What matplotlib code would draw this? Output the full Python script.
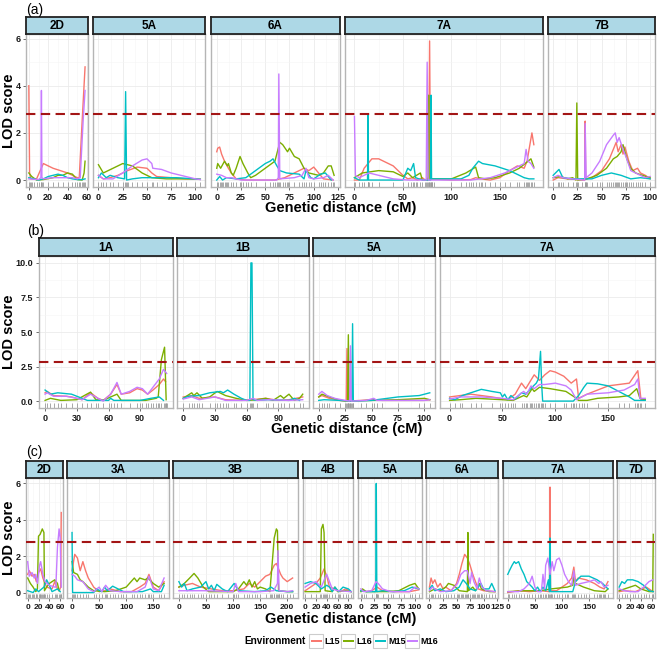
import matplotlib
matplotlib.use("Agg")
import matplotlib.pyplot as plt
from matplotlib.patches import Rectangle

plt.rcParams['font.family'] = ['Liberation Sans', 'DejaVu Sans']

# ---------------- data ----------------
ENVS = ["L15", "L16", "M15", "M16"]
COLORS = ["#F8766D", "#7CAE00", "#00BFC4", "#C77CFF"]
THRESHOLD = 2.8

# Row (a)
a_chroms = ["2D", "5A", "6A", "7A", "7B"]
a_xticks = [[0, 20, 40, 60], [0, 25, 50, 75, 100], [0, 25, 50, 75, 100, 125],
            [0, 50, 100, 150], [0, 25, 50, 75, 100]]
a_yticks = [0, 2, 4, 6]
a_ylabels = ["0", "2", "4", "6"]

a_2D = {
    "L15": ([0, 0.8, 2, 8, 15, 25, 40, 50, 52, 55, 58],
            [4.0, 0.3, 0.05, 0.05, 0.7, 0.5, 0.3, 0.1, 0.1, 2.5, 4.8]),
    "L16": ([0, 3, 8, 15, 25, 30, 35, 40, 45, 48, 50, 55, 57, 58],
            [0.3, 0.15, 0.0, 0.02, 0.1, 0.2, 0.2, 0.3, 0.25, 0.1, 0.02, 0.0, 0.3, 0.8]),
    "M15": ([0, 5, 10, 15, 20, 25, 30, 35, 40, 45, 50, 55, 58],
            [0.1, 0.05, 0.0, 0.05, 0.15, 0.2, 0.25, 0.2, 0.1, 0.05, 0.02, 0.02, 0.05]),
    "M16": ([0, 10, 12.5, 13, 13.5, 15, 25, 35, 45, 50, 53, 56, 58],
            [0.05, 0.02, 0.1, 3.8, 0.1, 0.05, 0.1, 0.1, 0.1, 0.05, 0.1, 2.5, 3.8]),
}
a_5A = {
    "L15": ([0, 5, 12, 20, 30, 40, 50, 55, 60, 75, 90, 100, 105],
            [0.2, 0.05, 0.1, 0.2, 0.4, 0.55, 0.5, 0.3, 0.15, 0.1, 0.05, 0.05, 0.03]),
    "L16": ([0, 5, 15, 25, 35, 45, 55, 70, 85, 100, 105],
            [0.65, 0.3, 0.5, 0.7, 0.6, 0.3, 0.1, 0.05, 0.05, 0.05, 0.03]),
    "M15": ([0, 3, 8, 12, 20, 27, 28, 29, 35, 45, 60, 80, 100, 105],
            [0.1, 0.3, 0.1, 0.2, 0.1, 0.05, 3.75, 0.0, 0.05, 0.1, 0.1, 0.1, 0.05, 0.03]),
    "M16": ([0, 5, 15, 25, 35, 45, 50, 55, 56, 65, 75, 90, 100, 105],
            [0.2, 0.05, 0.05, 0.3, 0.6, 0.85, 0.9, 0.7, 0.5, 0.45, 0.3, 0.15, 0.05, 0.02]),
}
a_6A = {
    "L15": ([0, 1, 3, 5, 8, 12, 15, 20, 30, 60, 70, 80, 90, 95, 100, 105, 110, 120],
            [1.2, 1.35, 1.4, 1.1, 0.8, 0.5, 0.3, 0.05, 0.0, 0.0, 0.1, 0.3, 0.5, 0.4, 0.55, 0.3, 0.05, 0.0]),
    "L16": ([0, 1, 4, 8, 11, 12, 15, 17, 20, 24, 27, 32, 35, 40, 50, 60, 65, 68, 73, 75, 80, 85, 90, 95, 105, 110, 115, 118, 121],
            [0.5, 0.7, 0.5, 0.8, 0.6, 0.7, 0.3, 0.2, 0.5, 1.0, 0.7, 0.3, 0.1, 0.2, 0.5, 0.8, 1.6, 1.5, 1.2, 1.35, 1.0, 0.9, 0.5, 0.3, 0.2, 0.3, 0.6, 0.6, 0.2]),
    "M15": ([0, 3, 6, 10, 20, 30, 40, 50, 55, 58, 62, 65, 72, 85, 90, 92, 97, 100, 107, 112, 118],
            [0.0, 0.15, 0.0, 0.1, 0.05, 0.1, 0.4, 0.7, 0.8, 0.9, 0.6, 0.4, 0.3, 0.25, 0.05, 0.4, 0.1, 0.05, 0.25, 0.3, 0.0]),
    "M16": ([0, 5, 10, 15, 25, 62, 63.5, 64, 65, 80, 88, 92, 95, 100, 110, 115, 120],
            [0.25, 0.2, 0.1, 0.1, 0.0, 0.0, 0.1, 4.5, 0.05, 0.1, 0.2, 0.5, 0.1, 0.05, 0.1, 0.2, 0.0]),
}
a_7A = {
    "L15": ([0, 5, 10, 18, 25, 40, 50, 55, 60, 65, 70, 73, 76.5, 77.5, 78.5, 80, 100, 120, 125, 130, 140, 150, 160, 168, 175, 178, 183, 185],
            [0.0, 0.0, 0.5, 0.9, 0.9, 0.6, 0.2, 0.05, 0.1, 0.0, 0.1, 0.0, 0.1, 5.9, 0.1, 0.05, 0.0, 0.02, 0.1, 0.05, 0.0, 0.1, 0.4, 0.6, 0.5, 0.8, 2.0, 1.5]),
    "L16": ([0, 8, 25, 40, 50, 55, 60, 68, 70, 76, 76.5, 77, 80, 100, 115, 125, 128, 135, 145, 160, 170, 182, 185],
            [0.1, 0.3, 0.4, 0.35, 0.15, 0.3, 0.1, 0.3, 0.0, 0.0, 3.6, 0.0, 0.05, 0.05, 0.3, 0.55, 0.1, 0.05, 0.1, 0.3, 0.5, 0.9, 0.55]),
    "M15": ([0, 5, 13.5, 14, 14.5, 50, 55, 58, 61, 63, 70, 78.5, 79, 79.5, 82, 110, 118, 122, 128, 132, 145, 160, 175, 180, 185],
            [0.1, 0.0, 0.0, 2.77, 0.0, 0.0, 0.5, 0.4, 0.7, 0.1, 0.0, 0.0, 3.6, 0.05, 0.05, 0.05, 0.2, 0.5, 0.8, 0.7, 0.6, 0.4, 0.1, 0.05, 0.05]),
    "M16": ([0, 1, 5, 15, 25, 40, 55, 74, 75, 76, 120, 140, 155, 170, 175, 177, 179, 182, 185],
            [2.7, 0.2, 0.1, 0.3, 0.2, 0.05, 0.0, 0.0, 5.0, 0.0, 0.0, 0.1, 0.3, 0.6, 0.7, 1.3, 0.8, 0.7, 0.5]),
}
a_7B = {
    "L15": ([0, 5, 15, 30, 32.5, 33, 33.5, 40, 50, 58, 62, 65, 67, 70, 72, 74, 78, 82, 87, 90, 95, 100],
            [0.0, 0.1, 0.05, 0.0, 0.0, 2.5, 0.05, 0.1, 0.4, 0.9, 1.3, 1.6, 1.2, 1.5, 1.1, 1.4, 0.8, 0.4, 0.5, 0.3, 0.2, 0.05]),
    "L16": ([0, 8, 15, 20, 23.5, 24.4, 25.3, 35, 45, 55, 62, 66, 70, 72, 76, 80, 85, 92, 100],
            [0.1, 0.15, 0.05, 0.1, 0.0, 3.27, 0.0, 0.05, 0.2, 0.5, 0.9, 1.0, 1.2, 1.5, 0.9, 0.5, 0.3, 0.2, 0.1]),
    "M15": ([0, 6, 10, 20, 40, 50, 60, 70, 80, 90, 100],
            [0.2, 0.45, 0.1, 0.05, 0.05, 0.2, 0.3, 0.2, 0.05, 0.1, 0.05]),
    "M16": ([0, 5, 10, 20, 32.5, 33, 34, 40, 48, 55, 62, 64, 66, 68, 72, 75, 80, 85, 90, 95, 100],
            [0.1, 0.2, 0.1, 0.05, 0.0, 2.4, 0.1, 0.3, 0.8, 1.5, 1.9, 2.0, 1.6, 1.8, 1.3, 1.0, 0.4, 0.3, 0.2, 0.1, 0.15]),
}
a_data = [a_2D, a_5A, a_6A, a_7A, a_7B]

# Row (b)
b_chroms = ["1A", "1B", "5A", "7A"]
b_xticks = [[0, 30, 60, 90], [0, 30, 60, 90], [0, 25, 50, 75, 100], [0, 50, 100, 150]]
b_yticks = [0, 2.5, 5, 7.5, 10]
b_ylabels = ["0.0", "2.5", "5.0", "7.5", "10.0"]

b_1A = {
    "L15": ([0, 2, 8, 20, 25, 35, 43, 50, 55, 62, 68, 72, 80, 87, 92, 97, 102, 108, 112, 114],
            [0.6, 0.7, 0.4, 0.35, 0.3, 0.1, 0.6, 0.2, 0.05, 0.5, 1.2, 0.5, 0.6, 0.9, 0.8, 0.5, 0.8, 1.2, 1.6, 1.4]),
    "L16": ([0, 5, 15, 30, 43, 48, 55, 62, 68, 72, 95, 105, 107, 110, 113, 114.5],
            [0.05, 0.2, 0.05, 0.1, 0.65, 0.1, 0.05, 0.3, 0.5, 0.05, 0.05, 0.2, 0.3, 3.0, 3.9, 0.1]),
    "M15": ([0, 5, 12, 25, 35, 40, 60, 62, 65, 90, 100, 108, 112],
            [0.8, 0.5, 0.6, 0.5, 0.2, 0.05, 0.05, 0.2, 0.05, 0.05, 0.2, 0.3, 0.05]),
    "M16": ([0, 2, 8, 20, 30, 35, 43, 50, 55, 62, 68, 72, 80, 87, 92, 97, 102, 108, 112, 115],
            [0.5, 0.6, 0.35, 0.35, 0.2, 0.1, 0.5, 0.2, 0.0, 0.5, 1.35, 0.5, 0.7, 1.0, 0.9, 0.5, 1.0, 1.6, 2.3, 2.0]),
}
b_1B = {
    "L15": ([0, 8, 15, 30, 40, 55, 65, 78, 90, 100, 113],
            [0.3, 0.4, 0.2, 0.3, 0.1, 0.05, 0.1, 0.2, 0.05, 0.1, 0.3]),
    "L16": ([0, 8, 10, 13, 18, 25, 32, 40, 50, 60, 70, 78, 85, 92, 95, 100, 105, 110, 113],
            [0.2, 0.6, 0.4, 0.6, 0.2, 0.3, 0.7, 0.4, 0.2, 0.05, 0.1, 0.2, 0.05, 0.4, 0.2, 0.5, 0.05, 0.2, 0.5]),
    "M15": ([0, 5, 15, 25, 35, 38, 42, 48, 55, 60, 63, 64, 65, 66, 70, 80, 100, 105, 110],
            [0.2, 0.35, 0.4, 0.6, 0.7, 0.6, 0.8, 0.5, 0.2, 0.05, 0.05, 10.0, 10.0, 0.1, 0.05, 0.1, 0.05, 0.2, 0.05]),
    "M16": ([0, 8, 15, 30, 40, 60, 66, 70, 80, 100, 113],
            [0.15, 0.3, 0.1, 0.3, 0.05, 0.05, 0.2, 0.05, 0.1, 0.05, 0.1]),
}
b_5A = {
    "L15": ([0, 3, 10, 20, 26, 26.7, 27.5, 40, 50, 60, 100, 105],
            [0.3, 0.4, 0.2, 0.05, 0.0, 3.8, 0.0, 0.05, 0.1, 0.05, 0.05, 0.1]),
    "L16": ([0, 3, 10, 20, 27.3, 28, 28.7, 50, 75, 100, 105],
            [0.3, 0.5, 0.3, 0.05, 0.0, 4.8, 0.0, 0.05, 0.1, 0.2, 0.1]),
    "M15": ([0, 5, 20, 31.3, 32, 32.7, 50, 60, 75, 95, 105],
            [0.05, 0.1, 0.05, 0.0, 5.6, 0.0, 0.05, 0.15, 0.3, 0.4, 0.6]),
    "M16": ([0, 3, 8, 15, 25, 29.3, 30, 30.7, 45, 52, 55, 100, 105],
            [0.5, 0.7, 0.4, 0.2, 0.05, 0.0, 4.0, 0.0, 0.05, 0.2, 0.05, 0.05, 0.1]),
}
b_7A = {
    "L15": ([0, 10, 20, 40, 55, 62, 68, 72, 76, 80, 85, 90, 95, 100, 108, 115, 120, 122, 130, 140, 150, 160, 170, 178, 181, 185],
            [0.3, 0.4, 0.5, 0.3, 0.1, 0.5, 1.3, 0.9, 1.4, 1.9, 1.5, 1.9, 2.2, 2.1, 1.8, 1.3, 1.6, 0.2, 0.5, 0.8, 1.1, 1.2, 1.3, 2.2, 0.1, 0.1]),
    "L16": ([0, 10, 25, 50, 60, 70, 73, 78, 80, 85, 95, 110, 118, 122, 130, 140, 160, 170, 177, 180, 185],
            [0.05, 0.1, 0.2, 0.1, 0.05, 0.4, 0.3, 0.9, 0.7, 1.0, 0.9, 0.7, 0.3, 0.05, 0.05, 0.2, 0.3, 0.4, 0.9, 0.2, 0.1]),
    "M15": ([0, 5, 12, 20, 30, 40, 48, 50, 52, 55, 58, 62, 68, 72, 78, 82, 84, 86, 87, 88, 117, 122, 127, 130, 140, 150, 160, 170, 175, 185],
            [0.2, 0.1, 0.4, 0.6, 0.85, 0.7, 0.6, 0.3, 0.5, 0.1, 0.4, 0.15, 0.6, 0.5, 1.0, 1.3, 1.6, 3.6, 1.3, 0.0, 0.0, 0.4, 1.0, 1.3, 1.25, 1.1, 0.7, 0.3, 0.05, 0.05]),
    "M16": ([0, 10, 30, 50, 60, 70, 73, 77, 80, 85, 90, 100, 110, 115, 120, 125, 130, 150, 165, 175, 178, 180, 185],
            [0.15, 0.3, 0.3, 0.2, 0.1, 0.7, 0.5, 1.1, 0.9, 1.2, 1.2, 1.3, 1.1, 0.8, 0.1, 0.3, 0.5, 0.6, 0.8, 1.2, 1.6, 0.2, 0.2]),
}
b_data = [b_1A, b_1B, b_5A, b_7A]

# Row (c)
c_chroms = ["2D", "3A", "3B", "4B", "5A", "6A", "7A", "7D"]
c_xticks = [[0, 20, 40, 60], [0, 50, 100, 150], [0, 50, 100, 150, 200], [0, 20, 40, 60, 80],
            [0, 25, 50, 75, 100], [0, 25, 50, 75, 100, 125], [0, 50, 100, 150], [0, 20, 40, 60]]
c_yticks = [0, 2, 4, 6]
c_ylabels = ["0", "2", "4", "6"]

c_2D = {
    "L15": ([0, 3, 8, 12, 16, 20, 24, 28, 35, 45, 50, 55, 58, 61, 62],
            [1.0, 1.2, 0.9, 1.0, 0.6, 1.1, 1.3, 0.8, 0.3, 0.2, 0.6, 0.2, 0.1, 0.3, 4.4]),
    "L16": ([0, 5, 10, 15, 18, 20, 23, 27, 30, 31, 35, 40, 50, 55, 58],
            [0.8, 0.5, 0.3, 0.05, 0.2, 3.1, 3.2, 3.5, 3.3, 0.1, 0.3, 0.5, 0.7, 0.5, 0.1]),
    "M15": ([0, 10, 15, 20, 30, 35, 40, 45, 55, 60],
            [0.1, 0.0, 0.2, 0.05, 0.3, 0.7, 0.4, 0.05, 0.2, 0.05]),
    "M16": ([0, 3, 8, 12, 15, 18, 22, 24, 28, 32, 40, 50, 52, 55, 58, 60, 62],
            [1.7, 0.9, 1.1, 0.8, 1.0, 0.5, 1.5, 1.7, 1.0, 0.6, 0.4, 0.3, 0.3, 2.5, 3.5, 3.0, 0.3]),
}
c_3A = {
    "L15": ([0, 5, 10, 15, 20, 25, 30, 40, 50, 60, 70, 90, 110, 125, 135, 142, 150, 160, 170],
            [1.2, 2.1, 1.9, 1.2, 1.7, 1.2, 0.8, 0.3, 0.05, 0.1, 0.2, 0.05, 0.05, 0.3, 0.5, 1.0, 0.3, 0.1, 0.6]),
    "L16": ([0, 3, 10, 15, 20, 30, 40, 60, 80, 100, 115, 120, 125, 135, 140, 150, 160, 170],
            [1.7, 1.1, 1.0, 0.7, 0.6, 0.3, 0.1, 0.05, 0.1, 0.3, 0.8, 0.6, 0.8, 0.7, 0.8, 0.5, 0.3, 0.5]),
    "M15": ([0, 1, 40, 45, 55, 60, 65, 75, 85, 95, 130, 145, 150, 165, 170],
            [3.3, 0.0, 0.0, 0.2, 0.05, 0.3, 0.1, 0.35, 0.2, 0.05, 0.05, 0.2, 0.05, 0.05, 0.4]),
    "M16": ([0, 5, 10, 20, 30, 40, 50, 55, 62, 70, 90, 120, 135, 142, 150, 160, 170],
            [1.0, 0.9, 0.7, 0.6, 0.2, 0.05, 0.3, 0.05, 0.4, 0.1, 0.05, 0.05, 0.3, 0.9, 0.2, 0.1, 0.8]),
}
c_3B = {
    "L15": ([0, 10, 25, 40, 60, 80, 100, 120, 130, 140, 150, 160, 168, 176, 180, 184, 188, 192, 200, 205, 210],
            [0.3, 0.4, 0.5, 0.3, 0.2, 0.1, 0.1, 0.2, 0.5, 0.3, 0.6, 0.9, 1.0, 1.5, 1.6, 1.3, 1.0, 0.8, 0.6, 0.7, 0.8]),
    "L16": ([0, 10, 20, 28, 35, 45, 55, 100, 110, 120, 125, 130, 135, 140, 145, 150, 160, 168, 172, 176, 180, 182, 184, 200, 210],
            [0.3, 0.5, 0.8, 1.05, 0.8, 0.3, 0.05, 0.05, 0.2, 0.6, 0.4, 0.7, 0.3, 0.6, 0.2, 0.3, 0.2, 0.05, 1.5, 3.0, 3.5, 3.4, 0.1, 0.05, 0.05]),
    "M15": ([0, 5, 10, 15, 25, 40, 50, 55, 60, 65, 70, 80, 90, 102, 110, 140, 160, 170, 180, 200, 210],
            [0.6, 0.3, 0.5, 0.1, 0.2, 0.3, 0.6, 0.2, 0.4, 0.1, 0.45, 0.2, 0.05, 0.5, 0.1, 0.05, 0.1, 0.3, 0.1, 0.05, 0.05]),
    "M16": ([0, 50, 100, 105, 110, 150, 175, 182, 183, 185, 200, 210],
            [0.1, 0.1, 0.05, 0.5, 0.05, 0.05, 0.1, 0.5, 2.3, 0.1, 0.05, 0.1]),
}
c_4B = {
    "L15": ([0, 10, 20, 28, 35, 40, 45, 55, 65, 75, 85],
            [0.1, 0.3, 0.5, 0.8, 1.3, 0.9, 0.3, 0.2, 0.05, 0.2, 0.05]),
    "L16": ([0, 28, 30, 33, 35, 37, 50, 55, 60, 75, 85],
            [0.05, 0.05, 3.5, 3.75, 3.3, 0.1, 0.05, 0.3, 0.05, 0.1, 0.05]),
    "M15": ([0, 10, 20, 30, 40, 45, 50, 55, 62, 70, 80, 85],
            [0.5, 0.6, 0.5, 0.2, 0.4, 0.3, 0.05, 0.3, 0.05, 0.3, 0.2, 0.05]),
    "M16": ([0, 10, 20, 30, 38, 40, 45, 50, 60, 85],
            [0.3, 0.5, 0.6, 0.3, 0.9, 1.0, 0.6, 0.2, 0.1, 0.05]),
}
c_5A = {
    "L15": ([0, 10, 20, 30, 40, 60, 90, 107],
            [0.1, 0.05, 0.1, 0.3, 0.1, 0.05, 0.05, 0.15]),
    "L16": ([0, 3, 10, 50, 70, 90, 100, 107],
            [0.05, 0.2, 0.05, 0.05, 0.1, 0.4, 0.5, 0.2]),
    "M15": ([0, 10, 27.5, 28.5, 29.5, 40, 60, 80, 95, 107],
            [0.1, 0.05, 0.05, 6.0, 0.05, 0.1, 0.05, 0.1, 0.3, 0.2]),
    "M16": ([0, 5, 20, 28, 32, 40, 55, 90, 100, 107],
            [0.2, 0.05, 0.1, 0.6, 0.5, 0.2, 0.05, 0.05, 0.3, 0.2]),
}
c_6A = {
    "L15": ([0, 3, 6, 10, 15, 20, 25, 30, 40, 50, 55, 60, 65, 70, 75, 80, 85, 90, 100, 121],
            [0.3, 0.8, 0.5, 0.7, 0.3, 0.5, 0.2, 0.3, 0.1, 0.5, 1.0, 1.6, 2.1, 1.9, 1.5, 1.0, 0.6, 0.2, 0.1, 0.05]),
    "L16": ([0, 10, 20, 30, 35, 45, 55, 70, 71, 72, 80, 85, 92, 96, 110, 121],
            [0.05, 0.2, 0.1, 0.3, 0.5, 0.4, 0.1, 0.05, 3.3, 0.1, 0.3, 0.1, 0.5, 0.2, 0.05, 0.05]),
    "M15": ([0, 5, 10, 20, 30, 45, 55, 62, 68, 75, 85, 95, 100, 110, 115, 121],
            [0.2, 0.4, 0.1, 0.2, 0.05, 0.1, 0.3, 0.7, 0.5, 0.2, 0.1, 0.5, 0.2, 0.2, 0.5, 0.1]),
    "M16": ([0, 5, 10, 20, 40, 52, 58, 65, 70, 75, 78, 82, 88, 92, 97, 105, 121],
            [0.1, 0.3, 0.2, 0.05, 0.1, 0.5, 1.0, 1.2, 1.2, 0.5, 1.1, 0.6, 0.2, 0.8, 0.3, 0.1, 0.05]),
}
c_7A = {
    "L15": ([0, 20, 40, 60, 77, 78, 79, 90, 100, 110, 118, 122, 125, 130, 145, 160, 170, 178, 185],
            [0.0, 0.1, 0.05, 0.1, 0.05, 5.8, 0.1, 0.1, 0.3, 0.5, 0.8, 1.4, 0.6, 0.8, 0.7, 0.5, 0.3, 0.2, 0.6]),
    "L16": ([0, 30, 60, 80, 110, 120, 122, 125, 140, 160, 180, 185],
            [0.05, 0.1, 0.1, 0.2, 0.3, 0.4, 0.9, 0.5, 0.3, 0.1, 0.05, 0.2]),
    "M15": ([0, 3, 8, 12, 15, 20, 25, 30, 35, 45, 50, 55, 60, 65, 70, 75, 77, 78, 79, 120, 125, 135, 150, 165, 175, 185],
            [1.0, 1.2, 1.5, 1.7, 1.6, 1.7, 1.3, 1.0, 0.6, 0.3, 0.1, 0.3, 0.05, 0.3, 0.1, 0.7, 0.05, 3.0, 0.05, 0.05, 0.6, 0.9, 0.9, 0.7, 0.5, 0.2]),
    "M16": ([0, 20, 30, 40, 45, 50, 55, 62, 65, 68, 70, 74, 78, 82, 85, 90, 95, 100, 105, 112, 118, 122, 125, 135, 150, 160, 168, 172, 178, 185],
            [0.05, 0.05, 0.2, 0.5, 0.9, 0.3, 0.05, 0.05, 1.0, 0.2, 1.5, 1.9, 1.0, 1.7, 1.2, 1.8, 1.9, 1.5, 1.0, 0.6, 0.4, 1.2, 0.4, 0.5, 0.6, 0.7, 0.5, 0.6, 0.3, 0.4]),
}
c_7D = {
    "L15": ([0, 10, 30, 50, 60, 63],
            [0.05, 0.1, 0.05, 0.3, 0.1, 0.05]),
    "L16": ([0, 10, 20, 30, 40, 55, 62, 63],
            [0.1, 0.2, 0.3, 0.4, 0.2, 0.05, 0.05, 3.2]),
    "M15": ([0, 5, 10, 15, 25, 35, 45, 55, 63],
            [0.3, 0.6, 0.5, 0.7, 0.7, 0.6, 0.4, 0.1, 0.05]),
    "M16": ([0, 10, 20, 35, 45, 55, 62],
            [0.2, 0.1, 0.05, 0.05, 0.3, 0.6, 0.7]),
}
c_data = [c_2D, c_3A, c_3B, c_4B, c_5A, c_6A, c_7A, c_7D]

# ---------------- drawing ----------------
W, H = 660, 650
fig = plt.figure(figsize=(W / 100, H / 100), dpi=100)
fig.patch.set_facecolor("white")

STRIP_FS = 8.5
TITLE_FS = 10.5


def fig_rect(x0, y0, x1, y1):
    return [x0 / W, 1 - y1 / H, (x1 - x0) / W, (y1 - y0) / H]


def minor_between(ticks, lo, hi):
    out = []
    if len(ticks) > 1:
        step = ticks[1] - ticks[0]
        ext = [ticks[0] - step] + list(ticks) + [ticks[-1] + step]
        for a, b in zip(ext[:-1], ext[1:]):
            m = (a + b) / 2
            if lo <= m <= hi:
                out.append(m)
    return out


def draw_row(chroms, datas, xticks, yticks, ylabels, left, right, strip_top, strip_bot,
             bottom, gap, xlabel_y, tick_fs):
    ranges = []
    for d in datas:
        xmax = max(max(v[0]) for v in d.values())
        ranges.append(xmax)
    ymax = max(max(max(v[1]) for v in d.values()) for d in datas)
    ylim = (-0.05 * ymax, 1.05 * ymax)
    total = sum(ranges)
    avail = right - left - gap * (len(chroms) - 1)
    x = left
    for i, (ch, d, xt, r) in enumerate(zip(chroms, datas, xticks, ranges)):
        w = avail * r / total
        ax = fig.add_axes(fig_rect(x, strip_bot, x + w, bottom))
        xlim = (-0.05 * r, 1.05 * r)
        ax.set_xlim(*xlim)
        ax.set_ylim(*ylim)
        ax.set_facecolor("white")
        ax.set_xticks(xt)
        ax.set_xticklabels([str(t) for t in xt])
        ax.set_xticks(minor_between(xt, *xlim), minor=True)
        ax.set_yticks(yticks)
        ax.set_yticks(minor_between(yticks, *ylim), minor=True)
        ax.grid(which="major", color="#EBEBEB", lw=0.6, zorder=0)
        ax.grid(which="minor", color="#F5F5F5", lw=0.4, zorder=0)
        ax.set_axisbelow(True)
        ax.tick_params(which="minor", length=0)
        ax.tick_params(which="major", length=2.5, width=0.6, color="#555555",
                       labelsize=tick_fs, pad=1.5, labelcolor="#1a1a1a")
        for lab in ax.get_xticklabels():
            lab.set_fontweight("bold")
        if i == 0:
            ax.set_yticklabels(ylabels)
            ax.tick_params(axis="y", labelsize=6.5)
            for lab in ax.get_yticklabels():
                lab.set_fontweight("bold")
        else:
            ax.tick_params(axis="y", left=False, labelleft=False)
        for sp in ax.spines.values():
            sp.set_color("#B5B5B5")
            sp.set_linewidth(1.0)
        # rug of scan positions
        pos = sorted(set(p for v in d.values() for p in v[0]))
        ax.vlines(pos, 0, 0.03, transform=ax.get_xaxis_transform(),
                  color="#9a9a9a", lw=0.6, zorder=2)
        # threshold
        ax.axhline(THRESHOLD, color="#A31515", lw=1.5, ls=(0, (4.5, 2.6)), zorder=4)
        # curves
        for env, col in zip(ENVS, COLORS):
            xs, ys = d[env]
            ax.plot(xs, ys, color=col, lw=1.0, zorder=3)
        # strip
        sax = fig.add_axes(fig_rect(x, strip_top, x + w, strip_bot))
        sax.set_facecolor("#ADD8E6")
        sax.set_xticks([])
        sax.set_yticks([])
        for sp in sax.spines.values():
            sp.set_color("#222222")
            sp.set_linewidth(1.3)
        sax.text(0.5, 0.45, ch, ha="center", va="center", fontsize=STRIP_FS,
                 fontweight="bold", transform=sax.transAxes)
        x += w + gap
    fig.text((left + right) / 2 / W, 1 - xlabel_y / H, "Genetic distance (cM)",
             ha="center", va="center", fontsize=TITLE_FS, fontweight="bold")
    fig.text(9 / W, 1 - ((strip_bot + bottom) / 2) / H, "LOD score", rotation=90,
             ha="center", va="center", fontsize=TITLE_FS, fontweight="bold")


draw_row(a_chroms, a_data, a_xticks, a_yticks, a_ylabels,
         left=26, right=655, strip_top=17, strip_bot=34, bottom=187, gap=5.5,
         xlabel_y=208, tick_fs=6.5)
draw_row(b_chroms, b_data, b_xticks, b_yticks, b_ylabels,
         left=39, right=655, strip_top=238, strip_bot=256, bottom=408, gap=4.5,
         xlabel_y=429, tick_fs=6.5)
draw_row(c_chroms, c_data, c_xticks, c_yticks, c_ylabels,
         left=26, right=655, strip_top=461, strip_bot=478, bottom=598, gap=4.5,
         xlabel_y=619, tick_fs=6.0)

# panel tags
fig.text(26 / W, 1 - 10 / H, "(a)", ha="left", va="center", fontsize=10)
fig.text(27 / W, 1 - 231 / H, "(b)", ha="left", va="center", fontsize=10)
fig.text(26 / W, 1 - 452 / H, "(c)", ha="left", va="center", fontsize=10)

# legend (drawn in a pixel-coordinate overlay axes)
lax = fig.add_axes([0, 0, 1, 1], facecolor="none")
lax.set_xlim(0, W)
lax.set_ylim(H, 0)
lax.axis("off")
ly = 641
lax.text(306, ly, "Environment", ha="right", va="center", fontsize=7.2, fontweight="bold")
kx = 309
for env, col in zip(ENVS, COLORS):
    lax.add_patch(Rectangle((kx, ly - 7), 14, 14, facecolor="white",
                            edgecolor="#CCCCCC", lw=0.8, zorder=1))
    lax.plot([kx + 1.5, kx + 12.5], [ly, ly], color=col, lw=1.4, zorder=5,
             solid_capstyle="butt")
    lax.text(kx + 15, ly, env, ha="left", va="center", fontsize=6.5, fontweight="bold")
    kx += 32

fig.savefig("out.png", dpi=100, facecolor="white")
